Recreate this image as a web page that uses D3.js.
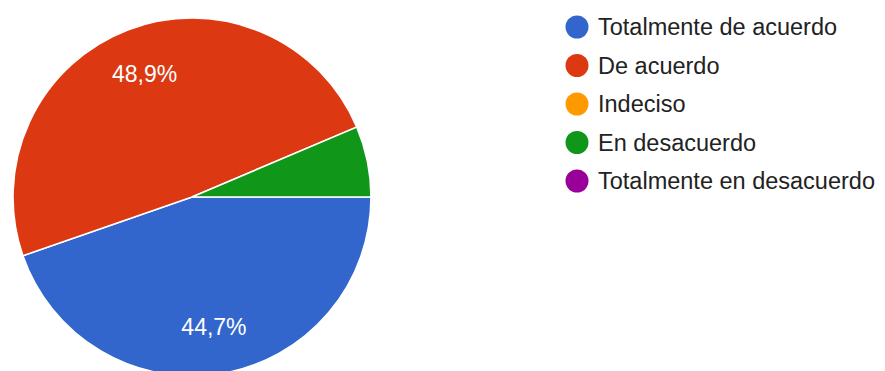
<!DOCTYPE html>
<html>
<head>
<meta charset="utf-8">
<script src="https://cdn.jsdelivr.net/npm/d3@7"></script>
<style>
  html, body { margin: 0; padding: 0; background: #fff; }
  svg { display: block; }
</style>
</head>
<body>
<svg id="chart" width="885" height="371"></svg>
<script>
// Survey answers and response counts (n = 47)
const categories = ["Totalmente de acuerdo", "De acuerdo", "Indeciso", "En desacuerdo", "Totalmente en desacuerdo"];
const counts = [21, 23, 0, 3, 0];
const colors = ["#3366cc", "#dc3912", "#ff9900", "#109618", "#990099"];

const svg = d3.select("#chart");
const cx = 192, cy = 197, radius = 179;
const total = d3.sum(counts);
const data = categories.map((c, i) => ({ name: c, value: counts[i], color: colors[i] }));

// Slices run clockwise starting at three o'clock
const pie = d3.pie()
  .sort(null)
  .value(d => d.value)
  .startAngle(Math.PI / 2)
  .endAngle(Math.PI / 2 + 2 * Math.PI);

const arc = d3.arc().innerRadius(0).outerRadius(radius);
const labelArc = d3.arc().innerRadius(132).outerRadius(132);

const g = svg.append("g").attr("transform", `translate(${cx},${cy})`);
const arcs = pie(data).filter(d => d.data.value > 0);

g.selectAll("path.slice")
  .data(arcs)
  .join("path")
  .attr("class", "slice")
  .attr("d", arc)
  .attr("fill", d => d.data.color)
  .attr("stroke", "#fff")
  .attr("stroke-width", 1.6);

const fmt = v => d3.format(".1f")(v).replace(".", ",") + "%";

g.selectAll("text.pct")
  .data(arcs.filter(d => d.data.value / total >= 0.1))
  .join("text")
  .attr("class", "pct")
  .attr("transform", d => `translate(${labelArc.centroid(d)})`)
  .attr("text-anchor", "middle")
  .attr("dy", "0.35em")
  .attr("fill", "#fff")
  .style("font-family", "Arial, 'Liberation Sans', sans-serif")
  .style("font-size", "23px")
  .text(d => fmt(d.data.value / total * 100));

// Legend
const legend = svg.append("g").attr("transform", "translate(577,27)");
const rows = legend.selectAll("g.row")
  .data(data)
  .join("g")
  .attr("class", "row")
  .attr("transform", (d, i) => `translate(0,${i * 38.5})`);

rows.append("circle")
  .attr("r", 11.5)
  .attr("fill", d => d.color);

rows.append("text")
  .attr("x", 21)
  .attr("dy", "0.35em")
  .attr("fill", "#222")
  .style("font-family", "Arial, 'Liberation Sans', sans-serif")
  .style("font-size", "23.5px")
  .text(d => d.name);
</script>
</body>
</html>
